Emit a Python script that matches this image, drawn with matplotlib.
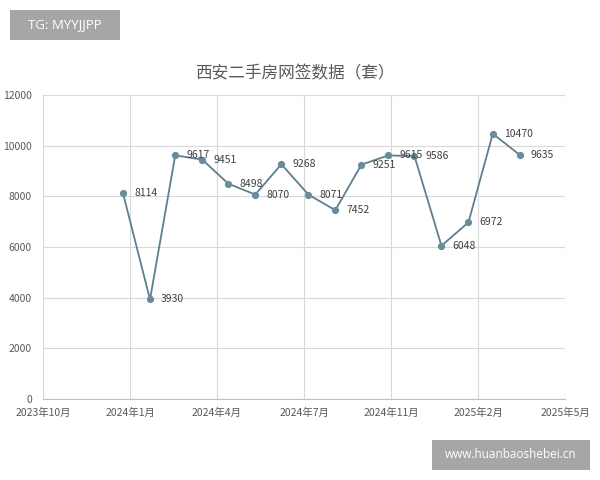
import datetime as dt
import matplotlib.pyplot as plt
import matplotlib.dates as mdates
from matplotlib.patches import Rectangle
from matplotlib.ticker import FixedLocator, FuncFormatter

plt.rcParams['font.family'] = ['Noto Sans CJK SC', 'DejaVu Sans']

# monthly signed contracts (sets)
months = ['2024-01-01', '2024-02-01', '2024-03-01', '2024-04-01', '2024-05-01', '2024-06-01',
          '2024-07-01', '2024-08-01', '2024-09-01', '2024-10-01', '2024-11-01', '2024-12-01',
          '2025-01-01', '2025-02-01', '2025-03-01', '2025-04-01']
values = [8114, 3930, 9617, 9451, 8498, 8070, 9268, 8071, 7452, 9251, 9615, 9586,
          6048, 6972, 10470, 9635]

title = '西安二手房网签数据（套）'
axis_start = '2023-10-01'
tick_step_days = 100
n_ticks = 7

dates = [dt.datetime.strptime(m, '%Y-%m-%d') for m in months]
x = mdates.date2num(dates)
x0 = mdates.date2num(dt.datetime.strptime(axis_start, '%Y-%m-%d'))
ticks = [x0 + i * tick_step_days for i in range(n_ticks)]

fig = plt.figure(figsize=(6, 4.8), dpi=100)
ax = fig.add_axes([43 / 600, 81 / 480, 522 / 600, 304 / 480])

line_col = '#5e7f8e'
ax.plot(x, values, color=line_col, lw=1.3, marker='o', ms=4.2,
        mfc='#6a8c9a', mec='#6a8c9a', zorder=3)
for xi, v in zip(x, values):
    ax.annotate(str(v), (xi, v), xytext=(8, 0), textcoords='offset points',
                ha='left', va='center', fontsize=7.5, color='#404040', zorder=4)

ax.set_xlim(ticks[0], ticks[-1])
ax.set_ylim(0, 12000)
ax.set_yticks(range(0, 12001, 2000))
ax.xaxis.set_major_locator(FixedLocator(ticks))

def fmt_month(v, pos):
    d = mdates.num2date(v)
    return f'{d.year}年{d.month}月'

ax.xaxis.set_major_formatter(FuncFormatter(fmt_month))
ax.grid(True, color='#d9d9d9', lw=0.8)
ax.set_axisbelow(True)
for s in ['top', 'right']:
    ax.spines[s].set_visible(False)
ax.spines['left'].set_color('#d9d9d9')
ax.spines['bottom'].set_color('#bfbfbf')
ax.tick_params(length=0, labelsize=7.5, colors='#595959', pad=6)
ax.tick_params(axis='y', pad=8)

fig.text(0.492, 0.846, title, ha='center', va='center', fontsize=12, color='#595959')

# watermark boxes
fig.add_artist(Rectangle((10 / 600, 1 - 40 / 480), 110 / 600, 30 / 480,
                         transform=fig.transFigure, fc='#a6a6a6', ec='none'))
fig.text(65 / 600, 1 - 25 / 480, 'TG: MYYJJPP', ha='center', va='center', fontsize=9.5,
         color='white', family='Open Sans')
fig.add_artist(Rectangle((432 / 600, 1 - 470 / 480), 158 / 600, 30 / 480,
                         transform=fig.transFigure, fc='#a6a6a6', ec='none'))
fig.text(511 / 600, 1 - 455 / 480, 'www.huanbaoshebei.cn', ha='center', va='center',
         fontsize=8.5, color='white', family='Open Sans')

fig.savefig('out.png', dpi=100)
